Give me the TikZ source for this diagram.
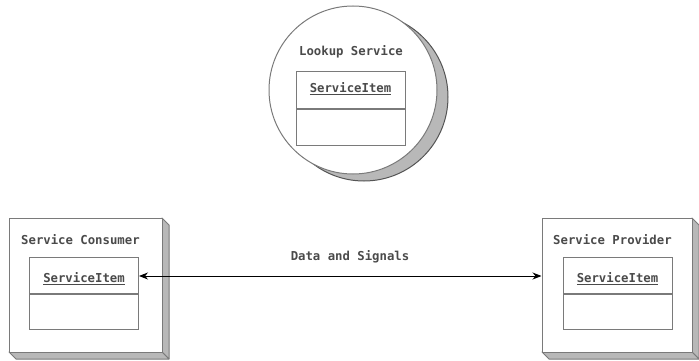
\documentclass[tikz,border=0pt]{standalone}
\usepackage{fontspec}
\newfontfamily\monofont{DejaVu Sans Mono}
\usetikzlibrary{arrows.meta}
\definecolor{linegray}{HTML}{7A7A7A}
\definecolor{textgray}{HTML}{4A4A4A}
\definecolor{shadegray}{HTML}{B8B8B8}
\tikzset{
  txt/.style={font=\monofont\bfseries\fontsize{12.3}{14}\selectfont, text=textgray, inner sep=0pt},
  frontbox/.style={draw=linegray, line width=1pt, fill=white, inner sep=0pt},
  compart/.style={draw=linegray, line width=1pt, fill=white, inner sep=0pt, minimum width=109pt},
  face/.style={draw=linegray, line width=1pt, fill=shadegray, line join=round},
  conn/.style={draw=black, line width=0.9pt, {Stealth[length=9pt,width=7pt]}-{Stealth[length=9pt,width=7pt]}},
}
\newcommand{\uitem}{\underline{ServiceItem}}
\begin{document}
\begin{tikzpicture}[x=1pt,y=-1pt]
\useasboundingbox (0,0) rectangle (699,361);

% Lookup service
\node[circle, draw=linegray!70!black, line width=1pt, fill=shadegray, minimum size=168pt, inner sep=0pt] (lshadow) at (364,97) {};
\node[circle, draw=linegray, line width=1pt, fill=white, minimum size=168pt, inner sep=0pt] (lookup) at (353,90) {};
\node[txt] (ltitle) at (351,52) {Lookup Service};
\node[compart, minimum height=36pt] (litem) at (350.5,90) {};
\node[txt] (litemtxt) at (350.5,89) {\uitem};
\node[compart, minimum height=36pt, anchor=north] (lbody) at (litem.south) {};

% Service consumer (3D box faces)
\draw[face] (162,218) -- (169,225) -- (169,359) -- (162,352) -- cycle;
\draw[face] (9,352) -- (16,359) -- (169,359) -- (162,352) -- cycle;
\node[frontbox, minimum width=153pt, minimum height=134pt] (cons) at (85.5,285) {};
\node[txt, anchor=west] (ctitle) at (21,240) {Service Consumer};
\node[compart, minimum height=36pt] (citem) at (84,275) {};
\node[txt] (citemtxt) at (84,279) {\uitem};
\node[compart, minimum height=35pt, anchor=north] (cbody) at (citem.south) {};

% Service provider (3D box faces)
\draw[face] (692,218) -- (699,225) -- (699,359) -- (692,352) -- cycle;
\draw[face] (542,352) -- (549,359) -- (699,359) -- (692,352) -- cycle;
\node[frontbox, minimum width=150pt, minimum height=134pt] (prov) at (617,285) {};
\node[txt, anchor=west] (ptitle) at (553,240) {Service Provider};
\node[compart, minimum height=36pt] (pitem) at (617.5,275) {};
\node[txt] (pitemtxt) at (617.5,279) {\uitem};
\node[compart, minimum height=35pt, anchor=north] (pbody) at (pitem.south) {};

% Connector
\coordinate (cend) at (citem.east |- 0,276);
\coordinate (pend) at (prov.west |- 0,276);
\draw[conn] (cend) -- (pend);
\node[txt] (datalbl) at (350,257) {Data and Signals};
\end{tikzpicture}
\end{document}
